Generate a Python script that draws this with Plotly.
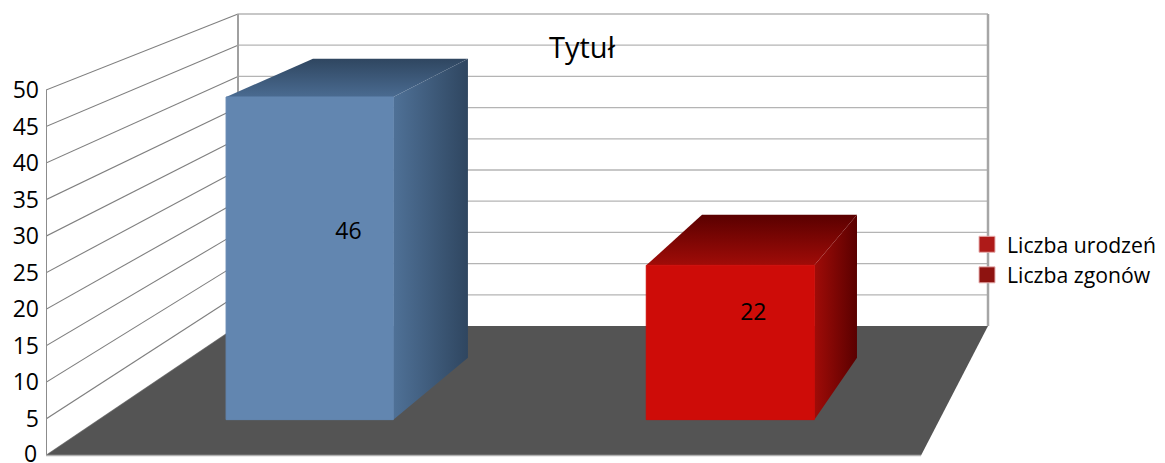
import plotly.graph_objects as go

# --- data ---
series_names = ["Liczba urodzeń", "Liczba zgonów"]
legend_colors = ["#AE1A18", "#8E1310"]
bar_values = [46, 22]
y_ticks = [0, 5, 10, 15, 20, 25, 30, 35, 40, 45, 50]
chart_title = "Tytuł"

# --- geometry of the 3D cage in screen pixels ---
W, H = 1165, 463
PAGE_OFFSET = 8  # default body margin of the written page
Y0_FRONT, Y0_BACK = 455.5, 326.0
UNIT_FRONT, UNIT_BACK = 7.31, 6.24
X_LEFT = (46.0, 238.0)
X_RIGHT = (921.0, 988.0)
BAR_W = (0.277, 0.754)
BAR_U_FRONT = [(0.151, 0.350), (0.651, 0.851)]
BAR_U_BACK = [(0.1565, 0.355), (0.6548, 0.8533)]
LABEL_SHIFT = -0.002
FACE = ["#6286B0", "#CE0C08"]
TOP = [("#2F4660", "#4A6B91"), ("#5A0000", "#A00C08")]
SIDE = [("#4F7197", "#2F4660"), ("#A00C08", "#5A0000")]


def to_axis(py):
    return (Y0_FRONT - py) / UNIT_FRONT


def project(u, v, w):
    """(u across, v value, w depth) -> (x pixel, y in axis units)."""
    xl = X_LEFT[0] + (X_LEFT[1] - X_LEFT[0]) * w
    xr = X_RIGHT[0] + (X_RIGHT[1] - X_RIGHT[0]) * w
    py = Y0_FRONT + (Y0_BACK - Y0_FRONT) * w - (UNIT_FRONT + (UNIT_BACK - UNIT_FRONT) * w) * v
    return xl + (xr - xl) * u, to_axis(py)


def poly(points, edge=None, **kw):
    xs = [p[0] for p in points] + [points[0][0]]
    ys = [p[1] for p in points] + [points[0][1]]
    ln = dict(width=0) if edge is None else dict(color=edge, width=1)
    return go.Scatter(x=xs, y=ys, mode="lines", fill="toself", line=ln,
                      hoverinfo="skip", showlegend=False, **kw)


def line(p, q, color, width):
    return go.Scatter(x=[p[0], q[0]], y=[p[1], q[1]], mode="lines",
                      line=dict(color=color, width=width), hoverinfo="skip", showlegend=False)


def gradient(kind, c0, c1):
    return dict(type=kind, colorscale=[[0, c0], [1, c1]])


fig = go.Figure()

# walls
for t in y_ticks:
    fig.add_trace(line(project(0, t, 0), project(0, t, 1), "#7F7F7F", 1.1))
    if t:
        fig.add_trace(line(project(0, t, 1), project(1, t, 1), "#B4B4B4", 1.3))
fig.add_trace(line(project(0, 0, 0), project(0, y_ticks[-1], 0), "#8C8C8C", 2))
fig.add_trace(line(project(0, 0, 1), project(0, y_ticks[-1], 1), "#A0A0A0", 2))
fig.add_trace(line(project(1, 0, 1), project(1, y_ticks[-1], 1), "#A6A6A6", 2.5))

# floor
fig.add_trace(poly([project(0, 0, 0), project(1, 0, 0), project(1, 0, 1), project(0, 0, 1)],
                   fillcolor="#545454"))
fig.add_trace(line(project(0, 0, 0), project(1, 0, 0), "#B0B0B0", 1.5))

# bars
wf, wb = BAR_W
for i, v in enumerate(bar_values):
    (fl, fr), (bl, br) = BAR_U_FRONT[i], BAR_U_BACK[i]
    fig.add_trace(poly([project(fr, 0, wf), project(br, 0, wb), project(br, v, wb), project(fr, v, wf)],
                       fillgradient=gradient("horizontal", *SIDE[i])))
    fig.add_trace(poly([project(fl, v, wf), project(fr, v, wf), project(br, v, wb), project(bl, v, wb)],
                       fillgradient=gradient("vertical", TOP[i][1], TOP[i][0])))
    fig.add_trace(poly([project(fl, 0, wf), project(fr, 0, wf), project(fr, v, wf), project(fl, v, wf)],
                       edge=FACE[i], fillcolor=FACE[i]))
    lx, ly = project((fl + fr + bl + br) / 4 + LABEL_SHIFT, v / 2, (wf + wb) / 2)
    fig.add_trace(go.Scatter(x=[lx], y=[ly], mode="text", text=[str(v)], textposition="middle center",
                             textfont=dict(size=23, color="#000000"), hoverinfo="skip", showlegend=False))

# legend entries
for name, color in zip(series_names, legend_colors):
    fig.add_trace(go.Scatter(x=[None], y=[None], mode="markers", name=name, legendgroup=name,
                             marker=dict(symbol="square", size=16, color=color,
                                         line=dict(color="#E8B0B0", width=1))))

FW, FH = W - PAGE_OFFSET, H - PAGE_OFFSET
TICK_FONT = dict(size=23, family="Open Sans", color="#000000")
fig.update_layout(
    width=FW, height=FH,
    margin=dict(l=46 - PAGE_OFFSET, r=0, t=0, b=0),
    paper_bgcolor="#FFFFFF", plot_bgcolor="rgba(0,0,0,0)",
    font=dict(family="Open Sans", color="#000000"),
    title=dict(text=chart_title, x=(582 - PAGE_OFFSET) / FW, y=1 - (48 - PAGE_OFFSET) / FH,
               xanchor="center", yanchor="middle", xref="container", yref="container",
               font=dict(size=29, family="Open Sans", color="#000000")),
    xaxis=dict(range=[46, W], visible=False, fixedrange=True),
    yaxis=dict(range=[to_axis(H), to_axis(PAGE_OFFSET)],
               tickvals=[to_axis(Y0_FRONT - t * UNIT_FRONT) for t in y_ticks[1:]],
               ticktext=[str(t) for t in y_ticks[1:]], showgrid=False, zeroline=False, showline=False,
               ticks="", tickfont=TICK_FONT, ticklabelstandoff=6, automargin=False, fixedrange=True),
    # the lowest tick label sits at the page edge; plotly would hide it as a tick label
    annotations=[dict(text=str(y_ticks[0]), xref="paper", x=0, xanchor="right", xshift=-7,
                      yref="y", y=y_ticks[0], yanchor="middle", yshift=3, showarrow=False, font=TICK_FONT)],
    legend=dict(x=(967 - 46) / (W - 46), y=1 - (224 - PAGE_OFFSET) / FH, xanchor="left", yanchor="top",
                font=dict(size=21.2, family="Open Sans", color="#000000"), bgcolor="rgba(0,0,0,0)",
                tracegroupgap=0, itemwidth=30),
    showlegend=True,
)

fig.write_html("out.html")
